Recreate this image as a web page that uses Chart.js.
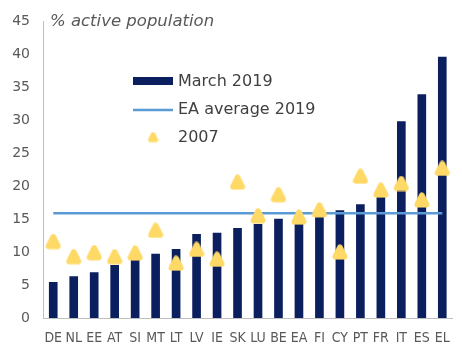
<!DOCTYPE html>
<html>
<head>
<meta charset="utf-8">
<script src="https://cdn.jsdelivr.net/npm/chart.js@4/dist/chart.umd.min.js"></script>
<style>
  html, body { margin: 0; padding: 0; background: #fff; }
  #wrap { width: 462px; height: 350px; }
</style>
</head>
<body>
<div id="wrap"><canvas id="chartContainer"></canvas></div>
<script>
// Countries, sorted by the March 2019 value
const countries = ["DE", "NL", "EE", "AT", "SI", "MT", "LT", "LV", "IE", "SK",
  "LU", "BE", "EA", "FI", "CY", "PT", "FR", "IT", "ES", "EL"];
const march2019 = [5.4, 6.3, 6.9, 8.0, 9.0, 9.7, 10.4, 12.7, 12.9, 13.6,
  14.2, 15.0, 15.4, 15.9, 16.3, 17.2, 18.3, 29.8, 33.9, 39.6];
const year2007 = [11.6, 9.3, 9.9, 9.3, 9.85, 13.3, 8.3, 10.4, 8.9, 20.6,
  15.5, 18.7, 15.3, 16.4, 10.0, 21.5, 19.4, 20.4, 17.9, 22.7];
const eaAverage2019 = 15.9;
const yTicks = [0, 5, 10, 15, 20, 25, 30, 35, 40, 45];

const navy = "#0b1f5e";
const lightBlue = "#5b9bd5";
const yellow = "#ffd966";
const textGrey = "#595959";

// rounded triangle used as the 2007 marker
function roundedTriangle(size, lw, color) {
  const c = document.createElement("canvas");
  c.width = size; c.height = size;
  const ctx = c.getContext("2d");
  const m = lw / 2 + 0.5;
  ctx.fillStyle = color;
  ctx.strokeStyle = color;
  ctx.lineJoin = "round";
  ctx.lineWidth = lw;
  ctx.beginPath();
  ctx.moveTo(size / 2, m);
  ctx.lineTo(size - m, size - m);
  ctx.lineTo(m, size - m);
  ctx.closePath();
  ctx.fill();
  ctx.stroke();
  return c;
}
const triangleImg = roundedTriangle(16, 6, yellow);
const legendTriangle = roundedTriangle(11, 4, yellow);

// legend and axis title drawn inside the plot area
const innerLegend = {
  id: "innerLegend",
  afterDatasetsDraw(chart) {
    const ctx = chart.ctx;
    const x0 = 133, x1 = 173, tx = 178;
    ctx.save();
    ctx.font = "16px 'DejaVu Sans'";
    ctx.textBaseline = "middle";

    ctx.fillStyle = navy;
    ctx.fillRect(x0, 77, x1 - x0, 8);
    ctx.fillStyle = "#404040";
    ctx.fillText("March 2019", tx, 82);

    ctx.strokeStyle = lightBlue;
    ctx.lineWidth = 2.5;
    ctx.beginPath();
    ctx.moveTo(x0, 110);
    ctx.lineTo(x1, 110);
    ctx.stroke();
    ctx.fillText("EA average 2019", tx, 110);

    ctx.drawImage(legendTriangle, 153 - 5.5, 137 - 5.5);
    ctx.fillText("2007", tx, 138);

    ctx.font = "italic 16.5px 'DejaVu Sans'";
    ctx.fillStyle = textGrey;
    ctx.fillText("% active population", 50, 22);
    ctx.restore();
  }
};

const chartCanvas = document.getElementById("chartContainer");
const chart = new Chart(chartCanvas, {
  type: "bar",
  data: {
    labels: countries,
    datasets: [
      {
        type: "line",
        label: "2007",
        data: year2007,
        showLine: false,
        pointStyle: triangleImg,
        pointRadius: 8,
        order: 1
      },
      {
        type: "line",
        label: "EA average 2019",
        data: countries.map(() => eaAverage2019),
        borderColor: lightBlue,
        borderWidth: 2.5,
        pointRadius: 0,
        order: 2
      },
      {
        label: "March 2019",
        data: march2019,
        backgroundColor: navy,
        barThickness: 8,
        order: 3
      }
    ]
  },
  plugins: [innerLegend],
  options: {
    responsive: true,
    maintainAspectRatio: false,
    animation: false,
    layout: { padding: { top: 12, right: 0, bottom: 0, left: 0 } },
    plugins: {
      legend: { display: false },
      tooltip: { enabled: false }
    },
    scales: {
      x: {
        grid: { display: false, drawTicks: false },
        border: { color: "#bfbfbf", width: 1 },
        ticks: {
          autoSkip: false,
          maxRotation: 0,
          minRotation: 0,
          padding: 12,
          color: textGrey,
          font: { family: "'DejaVu Sans Condensed'", size: 14 }
        },
        afterFit(scale) { scale.height = 32; }
      },
      y: {
        min: 0,
        max: 45,
        grid: { display: false, drawTicks: false },
        border: { color: "#bfbfbf", width: 1 },
        afterBuildTicks(scale) { scale.ticks = yTicks.map(v => ({ value: v })); },
        ticks: {
          padding: 13,
          color: textGrey,
          font: { family: "'DejaVu Sans'", size: 14 }
        },
        afterFit(scale) { scale.width = 43; }
      }
    }
  }
});
</script>
</body>
</html>
